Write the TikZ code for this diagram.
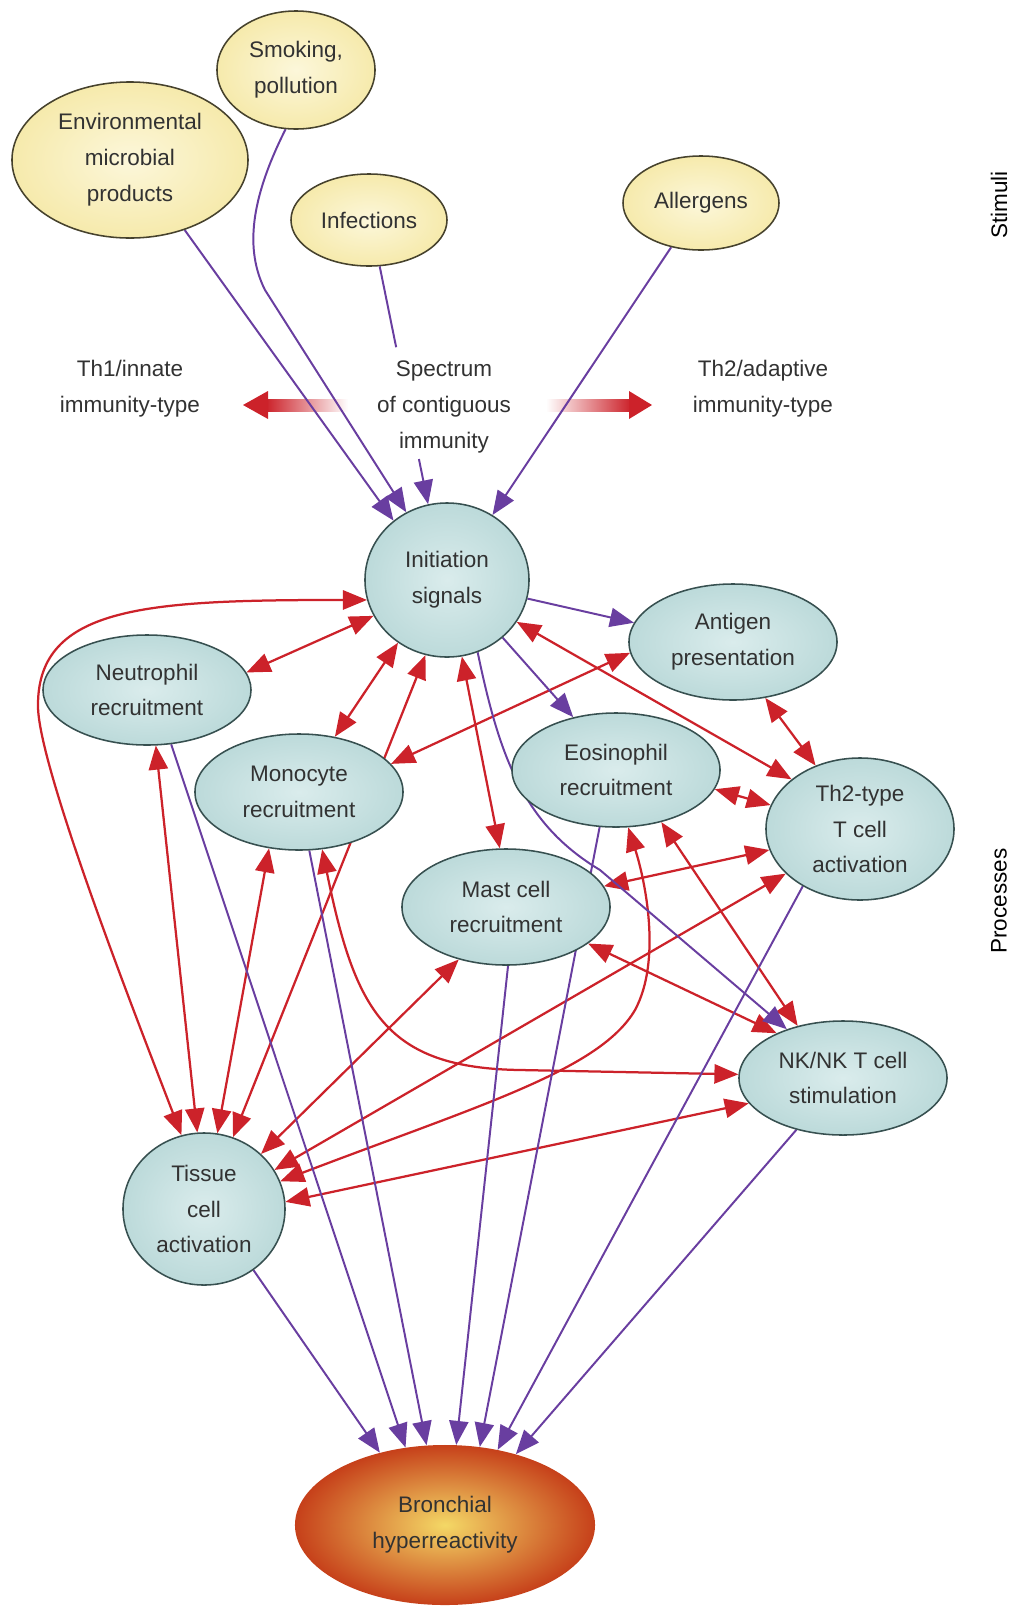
\documentclass[tikz,border=0pt]{standalone}
\usepackage{fontspec}
\setmainfont{Liberation Sans}
\usetikzlibrary{shapes.geometric,arrows.meta,calc,backgrounds}
\definecolor{redline}{RGB}{204,34,42}
\definecolor{purpline}{RGB}{105,62,160}
\definecolor{stimlight}{RGB}{252,247,218}
\definecolor{stimfill}{RGB}{246,234,172}
\definecolor{stimedge}{RGB}{70,66,45}
\definecolor{proclight}{RGB}{218,236,236}
\definecolor{procfill}{RGB}{188,218,218}
\definecolor{procedge}{RGB}{55,80,80}
\definecolor{bronlight}{RGB}{244,216,102}
\definecolor{bronfill}{RGB}{198,64,26}
\definecolor{txtgray}{RGB}{50,50,50}

\begin{document}
\begin{tikzpicture}[x=0.025cm, y=-0.025cm,
    >={Triangle[length=6mm,width=4.8mm]},
    every node/.style={font=\fontsize{16}{25.5}\selectfont, text=txtgray, align=center},
    stim/.style={ellipse, draw=stimedge, line width=1.1pt, inner color=stimlight, outer color=stimfill, inner sep=0pt},
    proc/.style={ellipse, draw=procedge, line width=1.1pt, inner color=proclight, outer color=procfill, inner sep=0pt, minimum width=5.2cm, minimum height=2.9cm},
    redlink/.style={draw=redline, line width=1.6pt, <->},
    purplink/.style={draw=purpline, line width=1.4pt, ->},
    side/.style={text=black, rotate=90}]
    \useasboundingbox (0,0) rectangle (1012,1606);

    \node[stim, minimum width=5.9cm, minimum height=3.9cm] (env) at (130,160) {Environmental\\microbial\\products};
    \node[stim, minimum width=3.95cm, minimum height=2.95cm] (smoke) at (296,70) {Smoking,\\pollution};
    \node[stim, minimum width=3.9cm, minimum height=2.3cm] (infect) at (369,220) {Infections};
    \node[stim, minimum width=3.9cm, minimum height=2.35cm] (allerg) at (701,203) {Allergens};
    \node[side] (stimlabel) at (999,205) {Stimuli};

    \node (th1) at (130,389) {Th1/innate\\immunity-type};
    \node (spectrum) at (444,407) {Spectrum\\of contiguous\\immunity};
    \node (th2) at (763,389) {Th2/adaptive\\immunity-type};

    \node[proc, minimum width=4.1cm, minimum height=3.85cm] (init) at (447,580) {Initiation\\signals};
    \node[proc] (antigen) at (733,642) {Antigen\\presentation};
    \node[proc, minimum height=2.75cm] (neutro) at (147,690) {Neutrophil\\recruitment};
    \node[proc] (mono) at (299,792) {Monocyte\\recruitment};
    \node[proc, minimum height=2.85cm] (eosin) at (616,770) {Eosinophil\\recruitment};
    \node[proc, minimum width=4.7cm, minimum height=3.55cm] (thtwo) at (860,829) {Th2-type\\T cell\\activation};
    \node[proc] (mast) at (506,907) {Mast cell\\recruitment};
    \node[proc, minimum height=2.85cm] (nkcell) at (843,1078) {NK/NK T cell\\stimulation};
    \node[proc, minimum width=4.05cm, minimum height=3.8cm] (tissue) at (204,1209) {Tissue\\cell\\activation};
    \node[ellipse, inner color=bronlight, outer color=bronfill, minimum width=7.5cm, minimum height=4cm] (bronch) at (445,1525) {Bronchial\\hyperreactivity};
    \node[side] (proclabel) at (999,901) {Processes};

    \begin{pgfonlayer}{background}
    \shade[left color=redline, right color=white] (348,399) rectangle (266,411);
    \fill[redline] (268,391) -- (243,405) -- (268,419) -- cycle;
    \shade[left color=white, right color=redline] (546,399) rectangle (631,411);
    \fill[redline] (629,391) -- (652,405) -- (629,419) -- cycle;

    \draw[purplink] (env.308) -- (init.132);
    \draw[purplink] (smoke.260) .. controls (250,200) and (245,250) .. (265,290) -- (init.121);
    \draw[purplink, -] (infect.283) -- ($(infect.283)!0.34!(init.104)$);
    \draw[purplink] ($(infect.283)!0.81!(init.104)$) -- (init.104);
    \draw[purplink] (allerg.236) -- (init.55);

    \draw[redlink] (neutro.10) -- (init.206);
    \draw[redlink] (init.194) .. controls (150,600) and (38,605) .. (38,705) .. controls (37,765) and (140,1027) .. (tissue.107);
    \draw[redlink] (init.232) -- (mono.57);
    \draw[redlink] (tissue.68) -- (init.254);
    \draw[redlink] (antigen.186) -- (mono.17);
    \draw[redlink] (init.281) -- (mast.96);
    \draw[redlink] (init.329) -- (thtwo.144);
    \draw[redlink] (antigen.300) -- (thtwo.125);
    \draw[redlink] (eosin.349) -- (thtwo.165);
    \draw[redlink] (mast.12) -- (thtwo.193);
    \draw[redlink] (tissue.29) -- (thtwo.211);
    \draw[redlink] (eosin.311) -- (nkcell.131);
    \draw[redlink] (mast.336) -- (nkcell.146);
    \draw[redlink] (neutro.279) -- (tissue.95);
    \draw[redlink] (mono.242) -- (tissue.80);
    \draw[redlink] (mast.228) -- (tissue.44);
    \draw[redlink] (tissue.20) .. controls (480,1105) and (600,1070) .. (635,1010) .. controls (662,960) and (645,880) .. (eosin.282);
    \draw[redlink] (mono.292) .. controls (355,1010) and (385,1068) .. (520,1070) -- (nkcell.178);
    \draw[redlink] (nkcell.195) -- (tissue.5);

    \draw[purplink] (init.347) -- (antigen.169);
    \draw[purplink] (init.314) -- (eosin.129);
    \draw[purplink] (init.293) .. controls (500,760) and (525,825) .. (600,870) -- (nkcell.139);
    \draw[purplink] (tissue.309) -- (bronch.132);
    \draw[purplink] (neutro.294) -- (bronch.117);
    \draw[purplink] (mono.280) -- (bronch.103);
    \draw[purplink] (mast.272) -- (bronch.82);
    \draw[purplink] (eosin.254) -- (bronch.66);
    \draw[purplink] (thtwo.225) -- (bronch.55);
    \draw[purplink] (nkcell.228) -- (bronch.45);
    \end{pgfonlayer}
\end{tikzpicture}
\end{document}
